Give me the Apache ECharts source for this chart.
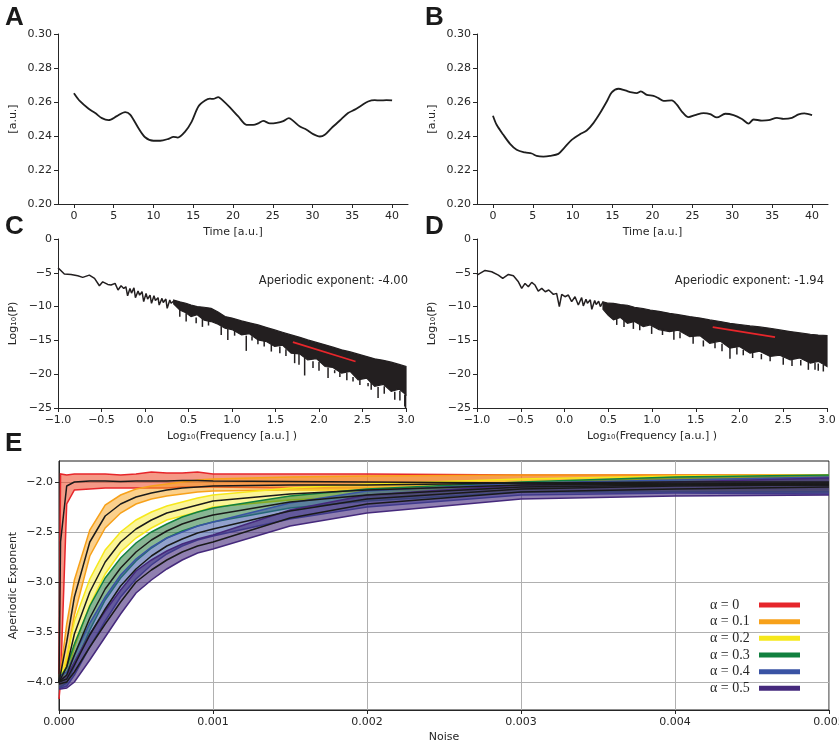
<!DOCTYPE html>
<html><head><meta charset="utf-8">
<script src="https://cdn.jsdelivr.net/npm/echarts@6/dist/echarts.min.js"></script>
<style>html,body{margin:0;padding:0;background:#fff}#c{width:839px;height:747px}</style>
</head><body><div id="c"></div>
<script>
// ---------- Panel A / B : time series ----------
const timeA = [0,0.8,1.85,2.68,3.52,4.35,5.4,6.44,7.07,8.12,8.95,10.0,10.84,11.88,12.51,13.06,13.98,14.81,15.65,16.49,17.1,17.5,18.15,18.57,19.61,20.66,21.7,22.54,23.17,23.8,24.64,25.48,26.32,27.03,27.57,28.41,29.25,30.08,30.92,31.54,32.38,33.43,34.47,35.31,36.15,36.98,37.82,38.45,39.29,40.0];
const valsA = [0.2652,0.2603,0.2560,0.2535,0.2505,0.2493,0.2517,0.2541,0.2526,0.2446,0.2393,0.2372,0.2372,0.2383,0.2395,0.2391,0.2426,0.2485,0.2574,0.2609,0.2620,0.2618,0.2629,0.2615,0.2568,0.2515,0.2466,0.2465,0.2474,0.2489,0.2474,0.2477,0.2487,0.2505,0.2489,0.2456,0.2437,0.2411,0.2397,0.2407,0.2446,0.2491,0.2535,0.2555,0.2580,0.2603,0.2611,0.2609,0.2611,0.2609];
const timeB = [0,0.46,1.30,2.14,2.97,4.02,4.86,5.48,6.32,7.16,8.2,8.91,9.87,10.92,11.75,12.59,13.43,14.27,14.89,15.73,16.57,17.41,18.03,18.54,19.29,20.12,20.75,21.38,22.42,23.05,23.68,24.51,25.35,26.4,27.23,28.07,29.12,30.16,31.21,32.04,32.67,33.72,34.55,35.6,36.43,37.48,38.32,39.03,40.0];
const valsB = [0.2519,0.2466,0.2407,0.2354,0.2319,0.2303,0.2297,0.2283,0.2279,0.2283,0.2295,0.2329,0.2377,0.2411,0.2432,0.2476,0.2535,0.2603,0.2656,0.2678,0.2668,0.2656,0.2652,0.2662,0.2642,0.2636,0.2623,0.2607,0.2609,0.2584,0.2544,0.2511,0.2523,0.2535,0.2529,0.2509,0.2531,0.2523,0.2500,0.2473,0.2497,0.2491,0.2493,0.2507,0.2501,0.2507,0.2527,0.2533,0.2523];
const timeTicks = [0,5,10,15,20,25,30,35,40];

// ---------- Panel C / D : spectra ----------
const cLowX = [-1.0,-0.927,-0.85,-0.773,-0.716,-0.64,-0.58,-0.524,-0.486,-0.428,-0.39,-0.344,-0.31,-0.275,-0.244,-0.22,-0.2,-0.173,-0.155,-0.127,-0.11,-0.08,-0.062,-0.034,-0.015,0.012,0.03,0.058,0.075,0.103,0.12,0.15,0.163,0.195,0.21,0.24,0.255,0.285,0.3,0.33];
const cLowY = [-4.26,-5.19,-5.24,-5.44,-5.68,-5.34,-5.83,-6.92,-6.33,-6.72,-6.81,-6.57,-7.55,-6.92,-7.31,-7.06,-8.4,-7.31,-8.0,-7.21,-8.68,-7.7,-8.3,-7.8,-9.27,-8.04,-8.9,-8.29,-9.52,-8.4,-9.1,-8.68,-9.77,-8.78,-9.4,-8.88,-10.26,-9.03,-9.5,-9.17];
const cBandX = [0.33,0.4,0.47,0.53,0.6,0.68,0.76,0.84,0.92,1.0,1.11,1.2,1.30,1.4,1.49,1.58,1.68,1.78,1.87,1.97,2.07,2.16,2.26,2.36,2.45,2.55,2.64,2.74,2.83,2.92,3.0];
const cUpper = [-9.03,-9.3,-9.5,-9.77,-10.0,-10.1,-10.26,-10.8,-11.48,-11.7,-12.12,-12.4,-12.71,-13.1,-13.45,-13.8,-14.19,-14.55,-14.93,-15.3,-15.66,-16.0,-16.4,-16.7,-17.04,-17.4,-17.73,-17.95,-18.22,-18.55,-18.86];
const cLower = [-9.6,-10.5,-10.9,-11.48,-11.2,-12.0,-12.21,-12.6,-13.2,-13.4,-14.19,-14.0,-14.93,-15.2,-15.9,-15.7,-16.9,-17.0,-17.88,-17.7,-18.86,-19.0,-19.85,-19.6,-20.83,-20.6,-21.8,-21.5,-22.55,-22.2,-23.04];
const cSpikeX = [0.40,0.473,0.588,0.66,0.73,0.876,0.952,1.03,1.164,1.23,1.298,1.37,1.452,1.55,1.62,1.72,1.77,1.835,1.931,2.0,2.104,2.18,2.24,2.32,2.391,2.47,2.564,2.6,2.679,2.75,2.871,2.93,2.986,2.995];
const cSpikeTop = [-10.0,-11.0,-11.6,-11.5,-12.0,-12.9,-13.3,-13.5,-14.3,-14.4,-14.8,-15.0,-15.6,-15.9,-16.3,-17.0,-17.0,-17.6,-18.1,-18.2,-19.0,-19.4,-19.5,-19.8,-20.4,-20.5,-21.3,-21.2,-21.9,-21.8,-22.6,-22.5,-23.0,-23.0];
const cSpikeBottom = [-11.5,-12.22,-12.47,-13.0,-12.8,-14.19,-14.93,-14.3,-16.55,-15.0,-15.56,-15.9,-16.65,-16.9,-17.3,-18.37,-18.6,-20.19,-19.1,-19.5,-20.58,-19.85,-20.4,-20.9,-21.07,-21.6,-21.8,-22.3,-23.53,-22.9,-23.78,-23.9,-24.76,-25.0];
const cFitX = [1.70, 2.42];
const cFitY = [-15.27, -18.12];

const dLowX = [-1.0,-0.908,-0.832,-0.756,-0.706,-0.641,-0.584,-0.527,-0.489,-0.451,-0.413,-0.375,-0.337,-0.3,-0.26,-0.22,-0.18,-0.127,-0.09,-0.059,-0.032,0.006,0.044,0.082,0.12,0.158,0.196,0.215,0.245,0.262,0.295,0.312,0.345,0.362,0.39,0.41,0.44];
const dLowY = [-5.34,-4.65,-4.85,-5.34,-5.83,-5.24,-5.44,-6.33,-7.3,-6.57,-7.06,-6.42,-6.81,-7.7,-7.31,-7.8,-7.55,-8.19,-8.04,-10.0,-8.19,-8.54,-8.29,-9.27,-8.54,-9.77,-8.68,-9.9,-8.9,-9.5,-9.0,-10.4,-9.1,-9.7,-9.2,-10.0,-9.3];
const dBandX = [0.44,0.5,0.56,0.64,0.72,0.8,0.9,0.98,1.08,1.2,1.3,1.43,1.55,1.66,1.78,1.89,2.0,2.12,2.23,2.35,2.46,2.58,2.69,2.81,2.9,3.0];
const dUpper = [-9.3,-9.5,-9.52,-9.7,-9.8,-10.1,-10.3,-10.5,-10.7,-10.99,-11.2,-11.48,-11.7,-11.97,-12.2,-12.47,-12.65,-12.86,-13.0,-13.2,-13.45,-13.7,-13.9,-14.09,-14.2,-14.29];
const dLower = [-10.4,-11.3,-11.97,-11.6,-12.47,-12.2,-12.96,-12.7,-13.4,-13.7,-13.5,-14.43,-14.3,-15.42,-15.1,-16.15,-15.9,-16.89,-16.6,-17.38,-17.2,-17.88,-17.6,-18.37,-18.1,-18.86];
const dSpikeX = [0.597,0.68,0.787,0.86,0.996,1.12,1.25,1.32,1.47,1.587,1.72,1.8,1.891,1.97,2.043,2.15,2.25,2.35,2.5,2.6,2.7,2.787,2.863,2.9,2.958];
const dSpikeTop = [-11.5,-11.8,-12.2,-12.4,-12.9,-13.2,-13.5,-13.8,-14.2,-15.0,-15.3,-15.5,-16.0,-16.0,-16.4,-16.7,-17.0,-17.3,-17.5,-17.8,-17.9,-18.2,-18.3,-18.4,-18.6];
const dSpikeBottom = [-12.71,-13.0,-13.3,-13.5,-14.04,-14.2,-14.9,-14.68,-15.5,-15.9,-16.15,-16.6,-17.73,-17.1,-17.2,-17.6,-17.8,-18.1,-18.61,-18.8,-18.7,-19.35,-19.35,-19.5,-19.6];
const dFitX = [1.694, 2.406];
const dFitY = [-13.05, -14.53];

// ---------- Panel E : aperiodic exponent vs noise ----------
const noiseX = [0,0.00001,0.00005,0.0001,0.0002,0.0003,0.0004,0.0005,0.0006,0.0007,0.0008,0.0009,0.001,0.0015,0.002,0.003,0.004,0.005];
const alphaNames = ['α = 0','α = 0.1','α = 0.2','α = 0.3','α = 0.4','α = 0.5'];
const mean0 = [-4.0,-2.6,-2.04,-2.0,-1.99,-1.99,-1.995,-1.99,-1.99,-1.99,-1.985,-1.985,-1.99,-1.995,-2.0,-2.01,-2.02,-2.03];
const upper0 = [-3.92,-1.92,-1.93,-1.92,-1.92,-1.92,-1.93,-1.92,-1.9,-1.91,-1.91,-1.9,-1.92,-1.92,-1.92,-1.93,-1.93,-1.93];
const lower0 = [-4.17,-4.0,-2.22,-2.08,-2.07,-2.06,-2.06,-2.06,-2.06,-2.06,-2.05,-2.05,-2.05,-2.06,-2.06,-2.07,-2.07,-2.07];
const mean1 = [-4.0,-4.0,-3.6,-3.15,-2.6,-2.34,-2.22,-2.15,-2.11,-2.08,-2.06,-2.05,-2.04,-2.03,-2.03,-2.01,-2.0,-2.0];
const upper1 = [-3.95,-3.9,-3.42,-2.98,-2.48,-2.23,-2.13,-2.07,-2.04,-2.02,-2.0,-1.98,-1.97,-1.95,-1.94,-1.93,-1.93,-1.93];
const lower1 = [-4.05,-4.05,-3.8,-3.33,-2.74,-2.46,-2.31,-2.22,-2.17,-2.14,-2.12,-2.1,-2.09,-2.08,-2.08,-2.08,-2.07,-2.07];
const mean2 = [-4.0,-4.0,-3.85,-3.52,-3.1,-2.8,-2.6,-2.47,-2.38,-2.31,-2.27,-2.23,-2.19,-2.12,-2.08,-2.03,-2.02,-2.01];
const upper2 = [-3.95,-3.95,-3.75,-3.39,-2.97,-2.68,-2.5,-2.38,-2.3,-2.24,-2.2,-2.16,-2.13,-2.06,-2.02,-1.97,-1.94,-1.93];
const lower2 = [-4.05,-4.05,-3.95,-3.65,-3.23,-2.92,-2.7,-2.56,-2.46,-2.38,-2.34,-2.3,-2.25,-2.18,-2.14,-2.09,-2.09,-2.08];
const mean3 = [-4.0,-4.0,-3.93,-3.73,-3.36,-3.07,-2.86,-2.7,-2.58,-2.49,-2.42,-2.37,-2.33,-2.2,-2.13,-2.05,-2.03,-2.02];
const upper3 = [-3.95,-3.95,-3.85,-3.62,-3.24,-2.96,-2.76,-2.61,-2.5,-2.42,-2.35,-2.3,-2.26,-2.14,-2.07,-2.0,-1.95,-1.93];
const lower3 = [-4.05,-4.05,-4.01,-3.84,-3.48,-3.18,-2.96,-2.79,-2.66,-2.56,-2.49,-2.44,-2.4,-2.26,-2.19,-2.1,-2.1,-2.1];
const mean4 = [-4.0,-4.0,-3.97,-3.83,-3.53,-3.27,-3.04,-2.87,-2.74,-2.64,-2.57,-2.51,-2.47,-2.29,-2.17,-2.07,-2.04,-2.03];
const upper4 = [-3.94,-3.94,-3.9,-3.73,-3.41,-3.15,-2.93,-2.77,-2.65,-2.56,-2.5,-2.44,-2.4,-2.21,-2.09,-2.01,-1.98,-1.95];
const lower4 = [-4.06,-4.06,-4.04,-3.93,-3.65,-3.39,-3.15,-2.97,-2.83,-2.72,-2.64,-2.58,-2.54,-2.37,-2.25,-2.13,-2.11,-2.12];
const mean5 = [-4.02,-4.02,-4.0,-3.9,-3.65,-3.42,-3.2,-3.0,-2.88,-2.78,-2.7,-2.64,-2.6,-2.36,-2.22,-2.1,-2.07,-2.05];
const upper5 = [-3.97,-3.97,-3.94,-3.8,-3.52,-3.29,-3.08,-2.89,-2.78,-2.69,-2.62,-2.57,-2.53,-2.28,-2.13,-2.03,-2.0,-1.96];
const lower5 = [-4.07,-4.07,-4.06,-4.0,-3.78,-3.55,-3.32,-3.11,-2.98,-2.87,-2.78,-2.71,-2.67,-2.44,-2.31,-2.17,-2.14,-2.13];
const eYTicks = [-4.0,-3.5,-3.0,-2.5,-2.0];

// ---------- styles ----------
const edgeColors = ['#e6262b','#f7a11a','#f6e81b','#11803f','#3953a4','#45297c'];
const fillColors = ['rgba(236,70,35,0.55)','rgba(247,161,26,0.5)','rgba(246,232,27,0.45)','rgba(17,110,40,0.5)','rgba(57,83,164,0.55)','rgba(69,41,124,0.6)'];
const INK = '#262626';
const SPEC = '#231f20';
const FONT = 'DejaVu Sans';
const minus = s => s.replace('-', '\u2212');

function zipXY(xs, ys){ return xs.map((x,i)=>[x, ys[i]]); }

function baseAxis(extra){
  return Object.assign({
    type:'value',
    axisLine:{show:true, onZero:false, lineStyle:{color:INK, width:1}},
    axisTick:{show:true, inside:false, length:4, lineStyle:{color:INK, width:1}},
    axisLabel:{show:true, color:INK, fontSize:11, fontFamily:FONT, margin:6},
    splitLine:{show:false},
    nameLocation:'middle',
    nameMoveOverlap:false,
    nameTextStyle:{color:INK, fontSize:11, fontFamily:FONT}
  }, extra);
}

function bandRender(xs, up, lo, fill, stroke, lw){
  return function(params, api){
    const top = xs.map((x,i)=>api.coord([x, up[i]]));
    const bot = xs.map((x,i)=>api.coord([x, lo[i]]));
    const children = [{type:'polygon', shape:{points: top.concat(bot.slice().reverse())}, style:{fill: fill, stroke: stroke ? null : fill, lineWidth: 1.2}}];
    if (stroke){
      children.push({type:'polyline', shape:{points: top}, style:{stroke: stroke, lineWidth: lw, fill: null}});
      children.push({type:'polyline', shape:{points: bot}, style:{stroke: stroke, lineWidth: lw, fill: null}});
    }
    return {type:'group', children: children};
  };
}
function spikeRender(params, api){
  const a = api.coord([api.value(0), api.value(1)]);
  const b = api.coord([api.value(0), api.value(2)]);
  return {type:'line', shape:{x1:a[0], y1:a[1], x2:b[0], y2:b[1]}, style:{stroke:SPEC, lineWidth:1.5}};
}

const grids = [
  {left:58, top:34, width:350, height:170},
  {left:477, top:34, width:351, height:170},
  {left:58, top:239, width:348, height:169},
  {left:477, top:239, width:350, height:169},
  {left:59, top:461, width:770, height:249, show:true, borderColor:'#1a1a1a', borderWidth:1}
].map(g => Object.assign({outerBoundsMode:'none', containLabel:false}, g));

const timeX = gi => baseAxis({gridIndex:gi, min:-2, max:42, name:'Time [a.u.]', nameGap:23,
  axisTick:{show:true, length:4, lineStyle:{color:INK}, customValues:timeTicks},
  axisLabel:{color:INK, fontSize:11, fontFamily:FONT, margin:7, customValues:timeTicks}});
const timeY = gi => baseAxis({gridIndex:gi, min:0.2, max:0.3, interval:0.02, name:'[a.u.]', nameGap:39,
  axisLabel:{color:INK, fontSize:11, fontFamily:FONT, margin:6, formatter: v => v.toFixed(2)}});
const freqX = gi => baseAxis({gridIndex:gi, min:-1, max:3, interval:0.5, name:'Log\u2081\u2080(Frequency [a.u.] )', nameGap:23,
  axisLabel:{color:INK, fontSize:11, fontFamily:FONT, margin:7, showMinLabel:true, showMaxLabel:true, formatter: v => minus(v.toFixed(1))}});
const powY = gi => baseAxis({gridIndex:gi, min:-25, max:0, interval:5, name:'Log\u2081\u2080(P)', nameGap:39,
  axisLabel:{color:INK, fontSize:11, fontFamily:FONT, margin:6, showMinLabel:true, showMaxLabel:true, formatter: v => minus(String(v))}});

const xAxes = [timeX(0), timeX(1), freqX(2), freqX(3),
  baseAxis({gridIndex:4, min:0, max:0.005, interval:0.001, name:'Noise', nameGap:22,
    axisLabel:{color:INK, fontSize:11, fontFamily:FONT, margin:7, showMinLabel:true, showMaxLabel:true, formatter: v => v.toFixed(3)},
    splitLine:{show:true, lineStyle:{color:'#b0b0b0', width:1}}})];
const yAxes = [timeY(0), timeY(1), powY(2), powY(3),
  baseAxis({gridIndex:4, min:-4.28, max:-1.79, name:'Aperiodic Exponent', nameGap:40,
    axisTick:{show:true, length:4, lineStyle:{color:INK}, customValues:eYTicks},
    axisLabel:{color:INK, fontSize:11, fontFamily:FONT, margin:6, customValues:eYTicks, formatter: v => minus(v.toFixed(1))},
    splitLine:{show:true, lineStyle:{color:'#b0b0b0', width:1}}})];

const series = [];
// A, B
series.push({type:'line', xAxisIndex:0, yAxisIndex:0, data:zipXY(timeA, valsA), showSymbol:false, smooth:0.3, lineStyle:{color:'#1e1e1e', width:1.8}});
series.push({type:'line', xAxisIndex:1, yAxisIndex:1, data:zipXY(timeB, valsB), showSymbol:false, smooth:0.3, lineStyle:{color:'#1e1e1e', width:1.8}});
// C
series.push({type:'custom', xAxisIndex:2, yAxisIndex:2, data:[[cBandX[0], cUpper[0]]], renderItem: bandRender(cBandX, cUpper, cLower, SPEC, null, 1), silent:true});
series.push({type:'line', xAxisIndex:2, yAxisIndex:2, data:zipXY(cLowX, cLowY), showSymbol:false, lineStyle:{color:SPEC, width:1.5}});
series.push({type:'custom', xAxisIndex:2, yAxisIndex:2, data:cSpikeX.map((x,i)=>[x, cSpikeTop[i], cSpikeBottom[i]]), encode:{x:0, y:[1,2]}, renderItem: spikeRender, silent:true});
series.push({type:'line', xAxisIndex:2, yAxisIndex:2, data:zipXY(cFitX, cFitY), showSymbol:false, lineStyle:{color:'#e8262b', width:1.8}});
// D
series.push({type:'custom', xAxisIndex:3, yAxisIndex:3, data:[[dBandX[0], dUpper[0]]], renderItem: bandRender(dBandX, dUpper, dLower, SPEC, null, 1), silent:true});
series.push({type:'line', xAxisIndex:3, yAxisIndex:3, data:zipXY(dLowX, dLowY), showSymbol:false, lineStyle:{color:SPEC, width:1.5}});
series.push({type:'custom', xAxisIndex:3, yAxisIndex:3, data:dSpikeX.map((x,i)=>[x, dSpikeTop[i], dSpikeBottom[i]]), encode:{x:0, y:[1,2]}, renderItem: spikeRender, silent:true});
series.push({type:'line', xAxisIndex:3, yAxisIndex:3, data:zipXY(dFitX, dFitY), showSymbol:false, lineStyle:{color:'#e8262b', width:1.8}});
// E
const means = [mean0, mean1, mean2, mean3, mean4, mean5];
const uppers = [upper0, upper1, upper2, upper3, upper4, upper5];
const lowers = [lower0, lower1, lower2, lower3, lower4, lower5];
for (let k = 0; k < 6; k++){
  series.push({type:'custom', name: alphaNames[k], xAxisIndex:4, yAxisIndex:4, data:[[noiseX[0], means[k][0]]],
    itemStyle:{color: edgeColors[k]},
    renderItem: bandRender(noiseX, uppers[k], lowers[k], fillColors[k], edgeColors[k], 1.5), silent:true});
  series.push({type:'line', xAxisIndex:4, yAxisIndex:4, data:zipXY(noiseX, means[k]), showSymbol:false, lineStyle:{color:'#1a1a1a', width:1.5}});
}

const letter = (t, x, y) => ({type:'text', x:x, y:y, style:{text:t, font:'bold 26px "Liberation Sans"', fill:'#1a1a1a', textVerticalAlign:'middle', verticalAlign:'middle'}});
const note = (t, x, y) => ({type:'text', x:x, y:y, style:{text:t, font:'11.5px "DejaVu Sans"', fill:INK, textAlign:'right', align:'right', textVerticalAlign:'middle', verticalAlign:'middle'}});

const option = {
  animation:false,
  backgroundColor:'#ffffff',
  grid: grids,
  xAxis: xAxes,
  yAxis: yAxes,
  legend: {show:true, orient:'vertical', left:705, top:593, align:'right', itemWidth:41, itemHeight:5, itemGap:2.67, icon:'rect', selectedMode:false,
    formatter: n => '{t|' + n + '}',
    textStyle:{fontFamily:'Liberation Serif', fontSize:14, color:INK,
      rich:{t:{fontFamily:'Liberation Serif', fontSize:14, color:INK, width:44, align:'left', lineHeight:14}}},
    data: alphaNames.map((n,k)=>({name:n, itemStyle:{color:edgeColors[k]}}))},
  graphic: [letter('A', 5, 18), letter('B', 425, 18), letter('C', 5, 227), letter('D', 425, 227), letter('E', 5, 444),
    note('Aperiodic exponent: -4.00', 408, 281), note('Aperiodic exponent: -1.94', 824, 281)],
  series: series
};
const chart = echarts.init(document.getElementById('c'), null, {renderer:'canvas'});
chart.setOption(option);
</script></body></html>
